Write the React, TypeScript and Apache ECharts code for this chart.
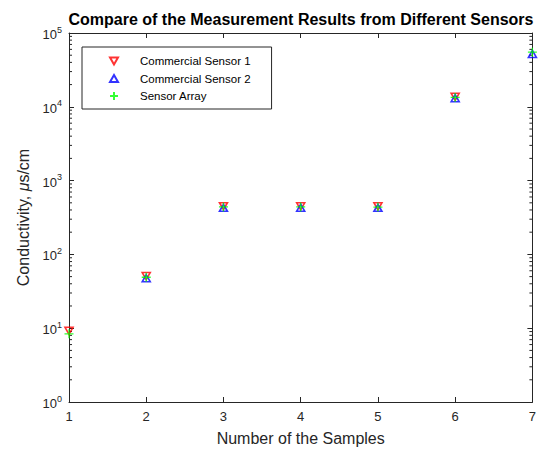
import React, { useEffect, useRef } from 'react';
import * as echarts from 'echarts';

// ---- data ----
const samples = [1, 2, 3, 4, 5, 6, 7];
const commercialSensor1: (number | null)[] = [9.2, 51, 450, 448, 448, 13700, null];
const commercialSensor2: (number | null)[] = [null, 47.5, 428, 430, 428, 13100, 52000];
const sensorArray: (number | null)[] = [8.4, 49, 440, 440, 438, 13400, 55000];
const seriesNames = ['Commercial Sensor 1', 'Commercial Sensor 2', 'Sensor Array'];
const titleText = 'Compare of the Measurement Results from Different Sensors';
const xAxisName = 'Number of the Samples';
const yMin = 1;
const yMax = 100000;
const minorMultipliers = [2, 3, 4, 5, 6, 7, 8, 9];
const minorDecades = [1, 10, 100, 1000, 10000];

const FONT = '"Liberation Sans", Arial, Helvetica, sans-serif';
const AXIS = '#262626';
const DOWN_TRIANGLE = 'path://M0,0L10,0L5,8.75Z';
const UP_TRIANGLE = 'path://M5,0L10,8.75L0,8.75Z';
const PLUS = 'path://M0,5L10,5M5,0L5,10';

function pairs(vals: (number | null)[]) {
  return samples.map((s, i) => [s, vals[i]]).filter((p) => p[1] !== null);
}

export default function App() {
  const ref = useRef<HTMLDivElement>(null);
  useEffect(() => {
    if (!ref.current) return;
    const chart = echarts.init(ref.current, null, { renderer: 'svg' });
    const minorTicks: number[][] = [];
    minorDecades.forEach((d) => minorMultipliers.forEach((m) => minorTicks.push([1, d * m])));

    const xBase = {
      type: 'value' as const,
      min: 1,
      max: 7,
      interval: 1,
      splitLine: { show: false },
      axisLine: { show: true, onZero: false, lineStyle: { color: AXIS, width: 1 } },
      axisTick: { show: true, inside: true, length: 5, lineStyle: { color: AXIS } },
    };
    const yBase = {
      type: 'log' as const,
      logBase: 10,
      min: yMin,
      max: yMax,
      splitNumber: 5,
      splitLine: { show: false },
      axisLine: { show: true, onZero: false, lineStyle: { color: AXIS, width: 1 } },
      axisTick: { show: true, inside: true, length: 5, lineStyle: { color: AXIS } },
    };

    chart.setOption({
      animation: false,
      backgroundColor: '#ffffff',
      textStyle: { fontFamily: FONT },
      grid: { left: 69, right: 2, top: 33, bottom: 48, containLabel: false },
      graphic: [
        {
          type: 'text',
          x: 301,
          y: 19,
          style: {
            text: titleText,
            fill: '#000',
            font: `bold 16px ${FONT}`,
            align: 'center',
            verticalAlign: 'middle',
          },
        },
      ],
      legend: {
        orient: 'vertical',
        left: 82,
        top: 47,
        padding: [8, 21, 7, 27],
        itemWidth: 8,
        itemHeight: 8,
        itemGap: 5.5,
        symbolKeepAspect: true,
        borderColor: AXIS,
        borderWidth: 1,
        backgroundColor: '#fff',
        textStyle: { fontSize: 11.5, color: '#000', fontFamily: FONT, padding: [0, 0, 0, 17] },
        data: [
          { name: seriesNames[0], icon: DOWN_TRIANGLE },
          { name: seriesNames[1], icon: UP_TRIANGLE },
          { name: seriesNames[2], icon: PLUS },
        ],
      },
      xAxis: [
        {
          ...xBase,
          position: 'bottom',
          axisLabel: { show: true, fontSize: 13, color: AXIS, margin: 8, fontFamily: FONT },
          name: xAxisName,
          nameLocation: 'middle',
          nameGap: 28,
          nameTextStyle: { fontSize: 16, color: AXIS, fontFamily: FONT },
        },
        { ...xBase, position: 'top', axisLabel: { show: false } },
      ],
      yAxis: [
        {
          ...yBase,
          position: 'left',
          axisLabel: {
            show: true,
            margin: 7,
            formatter: (v: number) => `{b|10}{s|${Math.round(Math.log10(v))}}`,
            rich: {
              b: { fontSize: 13, color: AXIS, fontFamily: FONT, lineHeight: 16, verticalAlign: 'bottom' },
              s: { fontSize: 9, color: AXIS, fontFamily: FONT, lineHeight: 16, verticalAlign: 'top', padding: [0, 0, 6, 0] },
            },
          },
          name: 'Conductivity, {i|μ}s/cm',
          nameLocation: 'middle',
          nameGap: 31,
          nameTextStyle: {
            fontSize: 16,
            color: AXIS,
            fontFamily: FONT,
            rich: { i: { fontSize: 16, fontStyle: 'italic', color: AXIS, fontFamily: FONT } },
          },
        },
        { ...yBase, position: 'right', axisLabel: { show: false } },
      ],
      series: [
        {
          name: seriesNames[0],
          type: 'scatter',
          data: pairs(commercialSensor1),
          symbol: DOWN_TRIANGLE,
          symbolSize: [8, 7],
          clip: false,
          itemStyle: { color: 'rgba(255,255,255,0)', borderColor: '#ff0000', borderWidth: 1.6 },
          z: 2,
        },
        {
          name: seriesNames[1],
          type: 'scatter',
          data: pairs(commercialSensor2),
          symbol: UP_TRIANGLE,
          symbolSize: [8, 7],
          clip: false,
          itemStyle: { color: 'rgba(255,255,255,0)', borderColor: '#0000ff', borderWidth: 1.6 },
          z: 3,
        },
        {
          name: seriesNames[2],
          type: 'scatter',
          data: pairs(sensorArray),
          symbol: PLUS,
          symbolSize: 9,
          clip: false,
          itemStyle: { color: 'rgba(255,255,255,0)', borderColor: '#00ff00', borderWidth: 1.3 },
          z: 4,
        },
        {
          type: 'custom',
          silent: true,
          clip: false,
          data: minorTicks,
          encode: { x: 0, y: 1 },
          renderItem: (_p: any, api: any) => {
            const v = api.value(1);
            const l = api.coord([1, v]);
            const r = api.coord([7, v]);
            return {
              type: 'group',
              children: [
                { type: 'line', shape: { x1: l[0], y1: l[1], x2: l[0] + 3, y2: l[1] }, style: { stroke: AXIS, lineWidth: 1 } },
                { type: 'line', shape: { x1: r[0], y1: r[1], x2: r[0] - 3, y2: r[1] }, style: { stroke: AXIS, lineWidth: 1 } },
              ],
            };
          },
        },
      ],
    });
    return () => chart.dispose();
  }, []);
  return (
    <div
      ref={ref}
      style={{ position: 'fixed', left: 0, top: 0, width: 539, height: 451, background: '#fff' }}
    />
  );
}
